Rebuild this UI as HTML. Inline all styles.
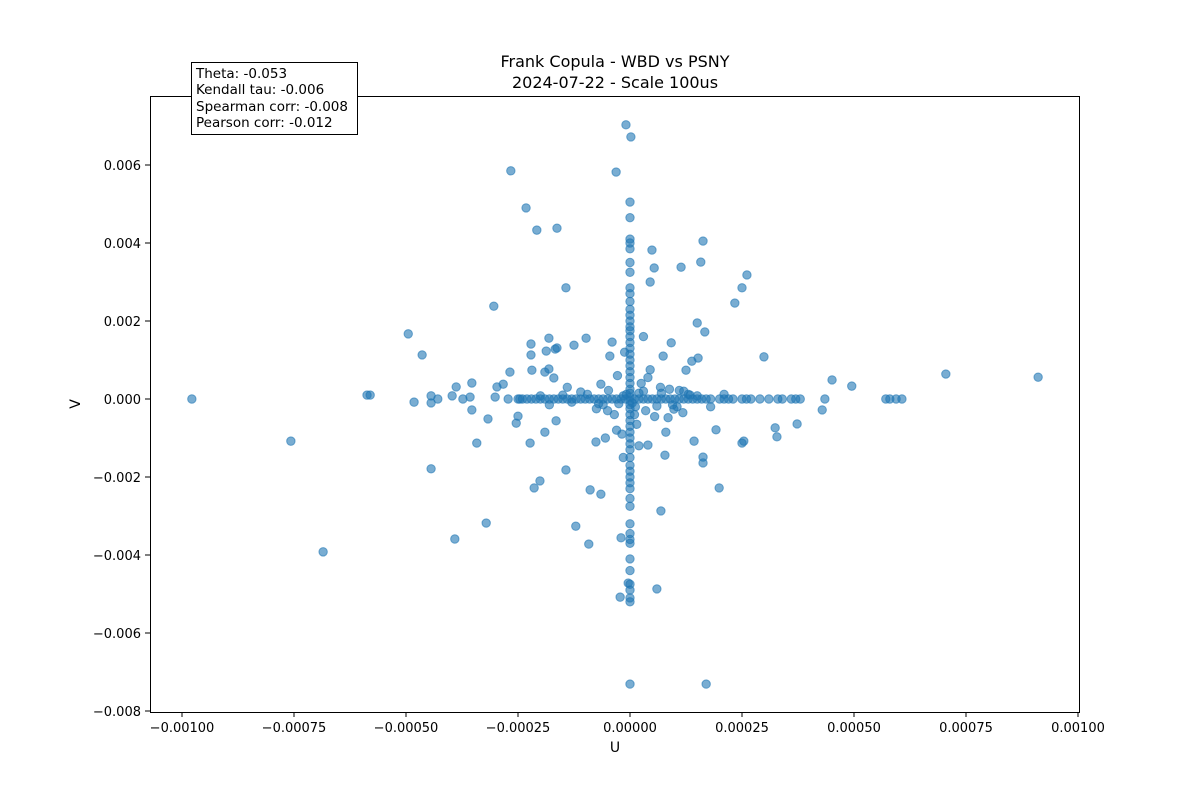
<!DOCTYPE html>
<html><head><meta charset="utf-8"><style>
body{margin:0;background:#fff;font-family:"Liberation Sans","DejaVu Sans",sans-serif}
svg text{font-family:"DejaVu Sans","Liberation Sans",sans-serif}
</style></head><body>
<svg id="chart" width="1200" height="800" xmlns="http://www.w3.org/2000/svg">
<rect width="1200" height="800" fill="#fff"/>
<g id="title">
<text x="615" y="67" font-size="16" text-anchor="middle">Frank Copula - WBD vs PSNY</text>
<text x="615" y="88" font-size="16" text-anchor="middle">2024-07-22 - Scale 100us</text>
</g>
<g id="points"></g>
<rect x="150.5" y="96.5" width="929" height="616" fill="none" stroke="#000" stroke-width="1"/>
<g id="xticks"></g>
<g id="yticks"></g>
<text x="615" y="752" font-size="14" text-anchor="middle">U</text>
<text x="80" y="404" font-size="14" text-anchor="middle" transform="rotate(-90 80 404)">V</text>
<g>
<rect x="191.5" y="62.5" width="166" height="72" fill="#fff" stroke="#000" stroke-width="1"/>
<text x="196" y="78" font-size="13.5">Theta: -0.053</text>
<text x="196" y="94" font-size="13.5">Kendall tau: -0.006</text>
<text x="196" y="111" font-size="13.5">Spearman corr: -0.008</text>
<text x="196" y="127" font-size="13.5">Pearson corr: -0.012</text>
</g>
</svg>
<script>
// u in units of 1e-6, v in units of 1e-5
const uVals=[-978,-757,-685,-587,-580,-495,-464,-482,-444,-444,-444,-429,-391,-388,-397,-373,-357,-353,-353,-342,-321,-317,-304,-297,-301,-283,-268,-272,-250,-246,-254,-223,-266,-232,-208,-163,-143,-221,-221,-219,-214,-201,-190,-187,-181,-181,-190,-170,-167,-163,-165,-143,-125,-121,-98,-92,-89,-76,-65,-40,-31,-20,-9,2,-22,-4,60,69,78,40,98,134,74,49,45,54,92,125,143,138,152,167,150,192,163,163,199,163,158,114,234,250,261,299,254,250,328,324,373,429,435,451,495,571,580,594,607,705,911,0,170,5,-8,12,-15,20,-25,30,
-65,-60,-48,-35,-28,-18,-12,15,25,35,45,55,68,80,88,105,118,130,-110,-130,-140,-55,-45,-75,20,30,-15,10,-30,40,60,85,110,-95,-70,-50,70,95,120,150,180,210,-150,-180,-200];
const vVals=[0,-108,-392,10,10,167,113,-8,8,-10,-179,0,-359,31,8,0,5,41,-28,-113,-318,-51,238,31,5,38,69,0,-44,0,-62,-113,585,490,433,438,285,141,113,74,-228,-210,69,123,156,77,-85,54,128,131,-56,-182,138,-326,156,-372,-233,-110,-244,146,582,-356,703,672,-508,-472,-487,-287,-144,-118,-26,10,110,382,300,336,144,74,-108,97,105,172,195,-79,-164,-149,-228,405,351,338,246,285,318,108,-108,-113,-97,-74,-64,-28,0,49,33,0,0,0,0,64,56,-731,-731,-10,12,-20,8,15,-12,20,
38,-15,22,-40,60,-90,120,-65,40,-30,75,-45,30,-85,25,-20,-35,12,18,-8,30,-100,110,-25,-120,160,-150,-40,-80,55,-18,-48,22,12,-12,-30,15,-15,20,8,-20,12,10,-15,8];
const hAxisU=[-250,-240,-230,-220,-210,-200,-190,-180,-170,-160,-150,-140,-130,-120,-110,-100,-90,-80,-70,-60,-50,-40,-30,-20,-10,10,20,30,40,50,60,70,80,90,100,110,120,130,140,150,160,170,180,200,210,220,230,250,260,270,290,310,330,340,360,370,380];
const vAxisV=[-520,-510,-490,-475,-440,-410,-370,-360,-345,-320,-275,-255,-230,-215,-200,-185,-170,-150,-130,-115,-100,-85,-70,-55,-40,-25,-15,-5,5,15,25,40,55,70,85,100,115,130,145,160,175,185,200,215,230,250,270,285,325,350,385,400,410,465,505];
const xTicks=[-0.001,-0.00075,-0.0005,-0.00025,0,0.00025,0.0005,0.00075,0.001];
const xTickLabels=["\u22120.00100","\u22120.00075","\u22120.00050","\u22120.00025","0.00000","0.00025","0.00050","0.00075","0.00100"];
const yTicks=[-0.008,-0.006,-0.004,-0.002,0,0.002,0.004,0.006];
const yTickLabels=["\u22120.008","\u22120.006","\u22120.004","\u22120.002","0.000","0.002","0.004","0.006"];
const NS="http://www.w3.org/2000/svg";
function xs(u){return 630+u/0.00025*112;}
function ys(v){return 399-v/0.002*78;}
const pts=document.getElementById('points');
function dot(u,v){const c=document.createElementNS(NS,'circle');
c.setAttribute('cx',xs(u));c.setAttribute('cy',ys(v));c.setAttribute('r',4.2);
c.setAttribute('fill','#1f77b4');c.setAttribute('fill-opacity','0.6');
c.setAttribute('stroke','#1f77b4');c.setAttribute('stroke-opacity','0.6');c.setAttribute('stroke-width','1');


pts.appendChild(c);}
for(let i=0;i<uVals.length;i++)dot(uVals[i]*1e-6,vVals[i]*1e-5);
hAxisU.forEach(u=>dot(u*1e-6,0));
vAxisV.forEach(v=>dot(0,v*1e-5));
const xg=document.getElementById('xticks');
xTicks.forEach((t,i)=>{const x=xs(t);
const l=document.createElementNS(NS,'line');l.setAttribute('x1',x);l.setAttribute('x2',x);l.setAttribute('y1',712);l.setAttribute('y2',717);l.setAttribute('stroke','#000');


xg.appendChild(l);
const tx=document.createElementNS(NS,'text');tx.setAttribute('x',x);tx.setAttribute('y',732);tx.setAttribute('font-size','13');tx.setAttribute('text-anchor','middle');tx.textContent=xTickLabels[i];


xg.appendChild(tx);});
const yg=document.getElementById('yticks');
yTicks.forEach((t,i)=>{const y=ys(t);
const l=document.createElementNS(NS,'line');l.setAttribute('x1',145);l.setAttribute('x2',150);l.setAttribute('y1',y);l.setAttribute('y2',y);l.setAttribute('stroke','#000');


yg.appendChild(l);
const tx=document.createElementNS(NS,'text');tx.setAttribute('x',141);tx.setAttribute('y',y+5);tx.setAttribute('font-size','13');tx.setAttribute('text-anchor','end');tx.textContent=yTickLabels[i];


yg.appendChild(tx);});
</script>
</body></html>
